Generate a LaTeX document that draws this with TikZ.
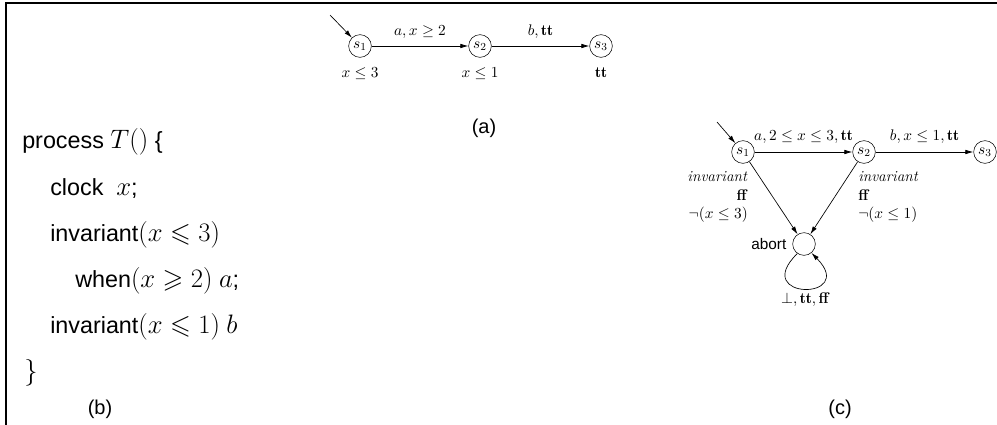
\RequirePackage{fix-cm}
\documentclass[tikz,border=0pt]{standalone}
\usepackage{amsmath,amssymb}
\usepackage{fontspec}
\newfontfamily\helv{Liberation Sans}
\DeclareMathSizes{17.5}{20}{14}{10}
\usetikzlibrary{arrows.meta,positioning,calc}
\tikzset{state/.style={draw,circle,minimum size=17pt,inner sep=0pt},
  tr/.style={draw,line width=.5pt,->},
  code/.style={anchor=base west,inner sep=0pt,font=\helv\fontsize{17.5}{21}\selectfont},
  caption/.style={font=\helv\fontsize{15}{18}\selectfont},
  every picture/.style={>={Latex[length=6pt,width=3.4pt]}}}

\begin{document}
\begin{tikzpicture}[x=.75pt,y=.75pt]
  \useasboundingbox (0,0) rectangle (997,-425);
  \draw[line width=.8pt] (997,-3) -- (6,-3) -- (6,-425);
  % timed automaton
  \begin{scope}[font=\fontsize{11.5}{13}\selectfont]
    \node[state] (a1) at (360,-46) {$s_1$};
    \node[state] (a2) at (480,-46) {$s_2$};
    \node[state] (a3) at (601,-46) {$s_3$};
    \coordinate (a0) at (330,-15);
    \draw[tr] (a0) -- (a1);
    \draw[tr] (a1) -- node[above=2pt] (l12) {$a, x \geq 2$} (a2);
    \draw[tr] (a2) -- node[above=2pt] (l23) {$b, \mathbf{tt}$} (a3);
    \node[below=4pt of a1] (i1) {$x \leq 3$};
    \node[below=4pt of a2] (i2) {$x \leq 1$};
    \node[below=4pt of a3] (i3) {$\mathbf{tt}$};
    \node[caption] (capa) at (484,-128) {(a)};
  \end{scope}
  % process text
  \begin{scope}
    \node[code] (p0) at (22,-148) {process $T()$ \{};
    \node[code] (p1) at (50,-195) {clock\ \ $x$;};
    \node[code] (p2) at (50,-241) {invariant$(x \leqslant 3)$};
    \node[code] (p3) at (75,-287) {when$(x \geqslant 2)$ $a$;};
    \node[code] (p4) at (50,-333) {invariant$(x \leqslant 1)$ $b$};
    \node[code] (p5) at (24,-379) {$\}$};
    \node[caption] (capb) at (100,-409) {(b)};
  \end{scope}
  % translated automaton
  \begin{scope}[font=\fontsize{11.5}{14}\selectfont]
    \node[state] (c1) at (743,-152) {$s_1$};
    \node[state] (c2) at (864,-152) {$s_2$};
    \node[state] (c3) at (985,-152) {$s_3$};
    \node[state] (ab) at (804,-244) {};
    \coordinate (c0) at (717,-122);
    \draw[tr] (c0) -- (c1);
    \draw[tr] (c1) -- node[above=3pt] (m12) {$a, 2 \leq x \leq 3, \mathbf{tt}$} (c2);
    \draw[tr] (c2) -- node[above=3pt] (m23) {$b, x \leq 1, \mathbf{tt}$} (c3);
    \draw[tr] (c1) -- (ab);
    \draw[tr] (c2) -- (ab);
    \draw[tr] (ab.235) .. controls +(-48,-47) and +(47,-48) .. (ab.-50);
    \node[align=right,anchor=east,inner sep=0pt] (inv1) at (748,-197)
      {\textit{invariant}\\\textbf{ff}\\$\neg(x \leq 3)$};
    \node[align=left,anchor=west,inner sep=0pt] (inv2) at (858,-197)
      {\textit{invariant}\\\textbf{ff}\\$\neg(x \leq 1)$};
    \node[left=1pt of ab,font=\helv\fontsize{11.5}{13}\selectfont] (ablbl) {abort};
    \node (loop) at (805,-300) {$\bot, \mathbf{tt}, \textbf{ff}$};
    \node[caption] (capc) at (840,-409) {(c)};
  \end{scope}
\end{tikzpicture}
\end{document}
